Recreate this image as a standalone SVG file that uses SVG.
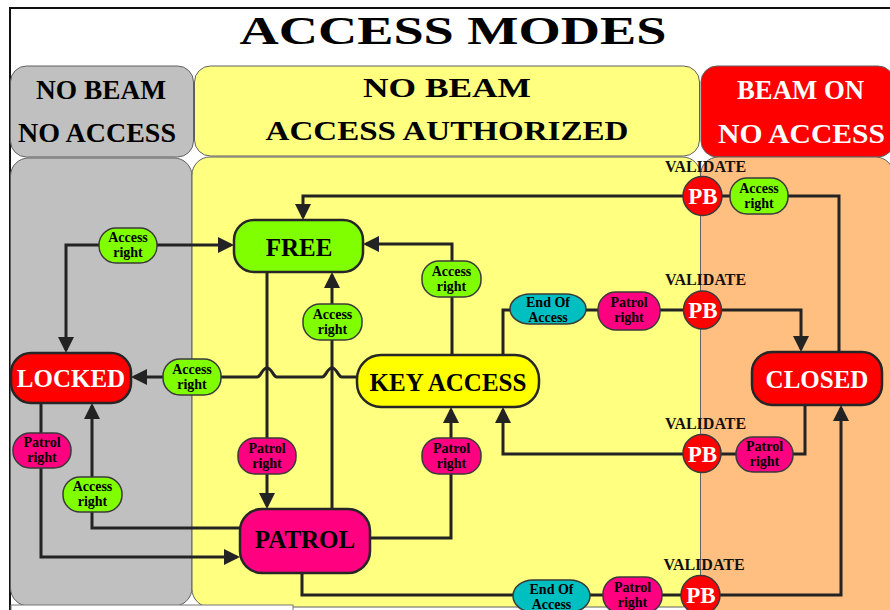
<svg xmlns="http://www.w3.org/2000/svg" width="890" height="610" viewBox="0 0 890 610">
<style>
text { font-family: "Liberation Serif", "Times New Roman", serif; font-weight: bold; text-anchor: middle; }
.conn { fill: none; stroke: #232323; stroke-width: 3; stroke-linejoin: miter; }
.panel { stroke: #606060; stroke-width: 1; }
.big { stroke: #262626; stroke-width: 2.5; }
.sm { stroke: #3a3a3a; stroke-width: 1.5; }
.hdr { font-size: 27px; }
.bt { font-size: 25px; }
.st { font-size: 14px; fill: #000; }
.pb { font-size: 23px; fill: #fff; }
.val { font-size: 16px; fill: #111; }
.green { fill: #80FF00; }
.pink { fill: #FF0080; }
.cyan { fill: #00BFC0; }
.red { fill: #FF0000; }
</style>
<defs>
<marker id="ah" viewBox="0 0 16 16" refX="13" refY="8" markerWidth="16" markerHeight="16" markerUnits="userSpaceOnUse" orient="auto-start-reverse">
<path d="M0,0 L16,8 L0,16 z" fill="#232323"/>
</marker>
</defs>
<rect x="0" y="0" width="890" height="610" fill="#fff"/>
<path d="M10 610 V8 H890" fill="none" stroke="#111" stroke-width="2"/>
<text x="453" y="44" font-size="40" textLength="427" lengthAdjust="spacingAndGlyphs">ACCESS MODES</text>

<g id="panels">
<rect class="panel" x="10.5" y="66" width="183" height="91" rx="16" fill="#C0C0C0"/>
<rect class="panel" x="194.5" y="66" width="505" height="90" rx="16" fill="#FFFF80"/>
<rect class="panel" x="701" y="66" width="193" height="91" rx="16" fill="#FF0000"/>
<rect class="panel" x="10.5" y="158" width="181.5" height="448" rx="18" fill="#C0C0C0"/>
<rect class="panel" x="192" y="157" width="508.5" height="450" rx="18" fill="#FFFF80"/>
<rect class="panel" x="700.5" y="157" width="193" height="465" rx="18" fill="#FFBF80"/>
<text class="hdr" x="101" y="99" textLength="130" lengthAdjust="spacingAndGlyphs">NO BEAM</text>
<text class="hdr" x="97" y="142" textLength="158" lengthAdjust="spacingAndGlyphs">NO ACCESS</text>
<text class="hdr" x="447" y="97" textLength="168" lengthAdjust="spacingAndGlyphs">NO BEAM</text>
<text class="hdr" x="447" y="140" textLength="363" lengthAdjust="spacingAndGlyphs">ACCESS AUTHORIZED</text>
<text class="hdr" x="800.5" y="99" textLength="127" lengthAdjust="spacingAndGlyphs" fill="#fff">BEAM ON</text>
<text class="hdr" x="801.5" y="143" textLength="167" lengthAdjust="spacingAndGlyphs" fill="#fff">NO ACCESS</text>
<rect x="11" y="605" width="282" height="10" fill="#fff" stroke="#777" stroke-width="1"/>
</g>

<g id="connectors">
<path class="conn" d="M66 350 V245 H231" marker-start="url(#ah)" marker-end="url(#ah)"/>
<path class="conn" d="M839 352 V196 H303 V217" marker-end="url(#ah)"/>
<path class="conn" d="M452 355 V244 H366" marker-end="url(#ah)"/>
<path class="conn" d="M332 509 V275" marker-end="url(#ah)"/>
<path class="conn" d="M267 272 V506" marker-end="url(#ah)"/>
<path class="conn" d="M357 377 H342 C338 377 337 368 332 368 C327 368 326 377 322 377 H277 C273 377 272 368 267 368 C262 368 261 377 257 377 H134" marker-end="url(#ah)"/>
<path class="conn" d="M240 528 H92 V406" marker-end="url(#ah)"/>
<path class="conn" d="M41 403 V557 H237" marker-end="url(#ah)"/>
<path class="conn" d="M370 538 H451 V410" marker-end="url(#ah)"/>
<path class="conn" d="M503 355 V310 H801 V349" marker-end="url(#ah)"/>
<path class="conn" d="M805 405 V454 H503 V410" marker-end="url(#ah)"/>
<path class="conn" d="M302 573 V595 H841 V408" marker-end="url(#ah)"/>
</g>

<g id="free"><rect class="big green" x="234" y="220" width="129" height="52" rx="20"/><text class="bt" x="299" y="256">FREE</text></g>
<g id="locked"><rect class="big red" x="11" y="353" width="120" height="50" rx="20"/><text class="bt" x="71" y="387" fill="#fff">LOCKED</text></g>
<g id="key-access"><rect class="big" x="357" y="355" width="182" height="52" rx="24" fill="#FFFF00"/><text class="bt" x="448" y="391">KEY ACCESS</text></g>
<g id="closed"><rect class="big red" x="752" y="352" width="130" height="53" rx="20"/><text class="bt" x="817" y="388" fill="#fff">CLOSED</text></g>
<g id="patrol"><rect class="big pink" x="240" y="509" width="130" height="64" rx="22"/><text class="bt" x="305" y="548">PATROL</text></g>

<g id="ar1"><rect class="sm green" x="99" y="228" width="58" height="35" rx="17"/><text class="st" x="128" y="242">Access</text><text class="st" x="128" y="257">right</text></g>
<g id="ar2"><rect class="sm green" x="422" y="261" width="59" height="36" rx="17"/><text class="st" x="451.5" y="275.5">Access</text><text class="st" x="451.5" y="290.5">right</text></g>
<g id="ar3"><rect class="sm green" x="303" y="304" width="59" height="36" rx="17"/><text class="st" x="332.5" y="318.5">Access</text><text class="st" x="332.5" y="333.5">right</text></g>
<g id="ar4"><rect class="sm green" x="163" y="359" width="58" height="36" rx="17"/><text class="st" x="192" y="373.5">Access</text><text class="st" x="192" y="388.5">right</text></g>
<g id="ar5"><rect class="sm green" x="63" y="477" width="59" height="35" rx="17"/><text class="st" x="92.5" y="491">Access</text><text class="st" x="92.5" y="506">right</text></g>
<g id="ar6"><rect class="sm green" x="730" y="178" width="58" height="36" rx="17"/><text class="st" x="759" y="192.5">Access</text><text class="st" x="759" y="207.5">right</text></g>

<g id="pr1"><rect class="sm pink" x="13" y="433" width="58" height="35" rx="17"/><text class="st" x="42" y="447">Patrol</text><text class="st" x="42" y="462">right</text></g>
<g id="pr2"><rect class="sm pink" x="238" y="438" width="58" height="36" rx="17"/><text class="st" x="267" y="452.5">Patrol</text><text class="st" x="267" y="467.5">right</text></g>
<g id="pr3"><rect class="sm pink" x="422" y="438" width="59" height="36" rx="17"/><text class="st" x="451.5" y="452.5">Patrol</text><text class="st" x="451.5" y="467.5">right</text></g>
<g id="pr4"><rect class="sm pink" x="598" y="292" width="62" height="38" rx="18"/><text class="st" x="629" y="307">Patrol</text><text class="st" x="629" y="322">right</text></g>
<g id="pr5"><rect class="sm pink" x="736" y="437" width="57" height="35" rx="17"/><text class="st" x="764.5" y="451">Patrol</text><text class="st" x="764.5" y="466">right</text></g>
<g id="pr6"><rect class="sm pink" x="603" y="577" width="59" height="36" rx="17"/><text class="st" x="632.5" y="591.5">Patrol</text><text class="st" x="632.5" y="606.5">right</text></g>

<g id="ea1"><rect class="sm cyan" x="510" y="294" width="76" height="30" rx="20" ry="15"/><text class="st" x="548" y="307">End Of</text><text class="st" x="548" y="322">Access</text></g>
<g id="ea2"><rect class="sm cyan" x="513" y="580" width="77" height="32" rx="20" ry="16"/><text class="st" x="551.5" y="593.5">End Of</text><text class="st" x="551.5" y="608.5">Access</text></g>

<g id="pb1"><text class="val" x="705.5" y="172">VALIDATE</text><circle class="sm red" cx="702.5" cy="196" r="19.5"/><text class="pb" x="703" y="204">PB</text></g>
<g id="pb2"><text class="val" x="705.5" y="285">VALIDATE</text><circle class="sm red" cx="702.5" cy="310" r="19"/><text class="pb" x="703" y="318">PB</text></g>
<g id="pb3"><text class="val" x="705.5" y="429">VALIDATE</text><circle class="sm red" cx="702" cy="453.5" r="19"/><text class="pb" x="702.5" y="461.5">PB</text></g>
<g id="pb4"><text class="val" x="704" y="570">VALIDATE</text><circle class="sm red" cx="700.5" cy="595" r="19.5"/><text class="pb" x="701" y="603">PB</text></g>
</svg>
